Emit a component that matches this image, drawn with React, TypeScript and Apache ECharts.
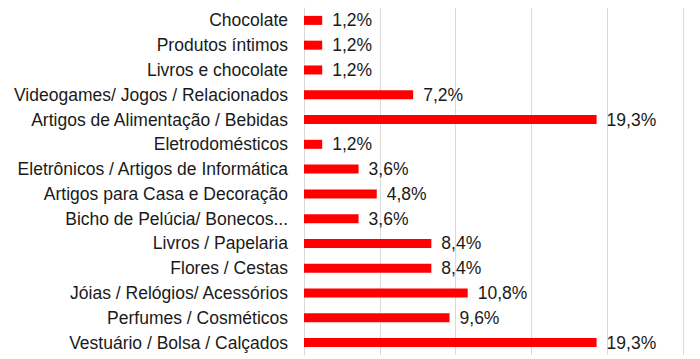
import React, { useEffect, useRef } from "react";
import * as echarts from "echarts";

const categories = [
  "Chocolate",
  "Produtos íntimos",
  "Livros e chocolate",
  "Videogames/ Jogos / Relacionados",
  "Artigos de Alimentação / Bebidas",
  "Eletrodomésticos",
  "Eletrônicos / Artigos de Informática",
  "Artigos para Casa e Decoração",
  "Bicho de Pelúcia/ Bonecos...",
  "Livros / Papelaria",
  "Flores / Cestas",
  "Jóias / Relógios/ Acessórios",
  "Perfumes / Cosméticos",
  "Vestuário / Bolsa / Calçados",
];

const values = [1.2, 1.2, 1.2, 7.2, 19.3, 1.2, 3.6, 4.8, 3.6, 8.4, 8.4, 10.8, 9.6, 19.3];

const xTicks = { min: 0, max: 25, interval: 5 };

export default function App() {
  const ref = useRef<HTMLDivElement>(null);
  useEffect(() => {
    if (!ref.current) return;
    const chart = echarts.init(ref.current, undefined, { renderer: "svg" });
    chart.setOption({
      animation: false,
      backgroundColor: "#ffffff",
      grid: { left: 304, right: 17, top: 8, bottom: 4, containLabel: false },
      xAxis: {
        type: "value",
        min: xTicks.min,
        max: xTicks.max,
        interval: xTicks.interval,
        axisLabel: { show: false },
        axisLine: { show: false },
        axisTick: { show: false },
        splitLine: { show: true, lineStyle: { color: "#d9d9d9", width: 1 } },
      },
      yAxis: {
        type: "category",
        data: categories,
        inverse: true,
        axisLine: { show: true, lineStyle: { color: "#d9d9d9", width: 1 } },
        axisTick: { show: false },
        axisLabel: {
          margin: 16,
          fontFamily: "'Liberation Sans', Arial, sans-serif",
          fontSize: 17.5,
          color: "#1a1a1a",
        },
      },
      series: [
        {
          type: "bar",
          data: values,
          barWidth: 9,
          itemStyle: { color: "#ff0000" },
          label: {
            show: true,
            position: "right",
            distance: 10,
            fontFamily: "'Liberation Sans', Arial, sans-serif",
            fontSize: 17.5,
            color: "#1a1a1a",
            formatter: (p: any) => p.value.toFixed(1).replace(".", ",") + "%",
          },
        },
      ],
    });
    return () => chart.dispose();
  }, []);
  return <div ref={ref} style={{ width: 700, height: 359, position: "fixed", left: 0, top: 0 }} />;
}
